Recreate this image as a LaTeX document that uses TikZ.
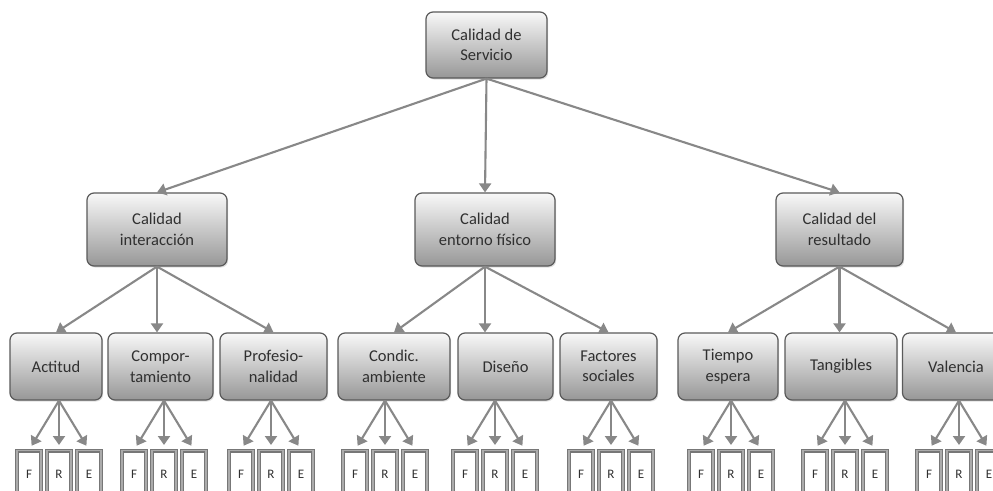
\documentclass[tikz,border=0pt]{standalone}
\usepackage{fontspec}
\setmainfont{Carlito}
\usetikzlibrary{arrows.meta,shadows}
\definecolor{boxtop}{HTML}{F8F8F8}
\definecolor{boxmid}{HTML}{DADADA}
\definecolor{boxbot}{HTML}{979797}
\definecolor{boxedge}{HTML}{5A5A5A}
\definecolor{linkgray}{HTML}{888888}
\definecolor{leafedge}{HTML}{777777}
\definecolor{leafin}{HTML}{ABABAB}
\definecolor{txt}{HTML}{303030}

% fan of three leaf boxes (F, R, E) under a category node
\newcommand\leafgroup[2]{%
  \node[leaf] (#1-F) at (#2-30,450) {F};
  \node[leaf] (#1-R) at (#2,450) {R};
  \node[leaf] (#1-E) at (#2+30,450) {E};
  \coordinate (#1-o) at (#1-R.north |- #1.south);
  \foreach \k in {F,R,E} \draw[link, shorten >=5pt] (#1-o) -- (#1-\k.north);
}

\begin{document}
\begin{tikzpicture}[x=1pt,y=-1pt,
  catbox/.style={rounded corners=7pt, draw=boxedge, line width=1.2pt,
    top color=boxtop, middle color=boxmid, bottom color=boxbot,
    text=txt, font=\fontsize{16.5}{20.5}\selectfont, align=center, inner sep=0pt,
    drop shadow={opacity=0.25, shadow xshift=1.2pt, shadow yshift=-1.5pt}},
  lvlone/.style={catbox, minimum height=73pt},
  lvltwo/.style={catbox, minimum height=67pt},
  leaf/.style={anchor=north, minimum width=24pt, minimum height=48pt, inner sep=0pt,
    draw=leafedge, line width=1.4pt, double=leafin, double distance=1.1pt,
    fill=white, text=txt, font=\fontsize{13}{15}\selectfont},
  link/.style={draw=linkgray, line width=2.1pt,
    -{Triangle[length=9pt,width=12pt]}}]

\clip (0,0) rectangle (993,490);
\fill[white] (0,0) rectangle (993,490);

% root
\node[catbox, minimum width=121pt, minimum height=66pt] (root) at (486.5,45) {Calidad de\\Servicio};

% second level
\node[lvlone, minimum width=140pt] (inter) at (157,229.5) {Calidad\\interacción};
\node[lvlone, minimum width=140pt] (entor) at (485,229.5) {Calidad\\entorno físico};
\node[lvlone, minimum width=127pt] (resul) at (839.5,229.5) {Calidad del\\resultado};

% third level
\node[lvltwo, minimum width=92pt]  (acti) at (56,366.5)  {Actitud};
\node[lvltwo, minimum width=105pt] (comp) at (160.5,366.5) {Compor-\\tamiento};
\node[lvltwo, minimum width=107pt] (prof) at (273.5,366.5) {Profesio-\\nalidad};
\node[lvltwo, minimum width=112pt] (cond) at (394,366.5) {Condic.\\ambiente};
\node[lvltwo, minimum width=95pt]  (dise) at (505.5,366.5) {Diseño};
\node[lvltwo, minimum width=97pt]  (fact) at (608.5,366.5) {Factores\\sociales};
\node[lvltwo, minimum width=100pt] (tiem) at (728,366.5) {Tiempo\\espera};
\node[lvltwo, minimum width=112pt] (tang) at (841,366.5) {Tangibles};
\node[lvltwo, minimum width=107pt] (vale) at (956,366.5) {Valencia};

% root to second level
\draw[link] (root.south) -- (inter.north);
\draw[link] (root.south) -- (entor.north);
\draw[link] (root.south) -- (resul.north);

% second level to third level
\draw[link] (inter.south) -- (acti.north);
\draw[link] (inter.south) -- (inter.south |- comp.north);
\draw[link] (inter.south) -- (prof.north);
\draw[link] (entor.south) -- (cond.north);
\draw[link] (entor.south) -- (entor.south |- dise.north);
\draw[link] (entor.south) -- (fact.north);
\draw[link] (resul.south) -- (tiem.north);
\draw[link] (resul.south) -- (resul.south |- tang.north);
\draw[link] (resul.south) -- (vale.north);

% leaves
\leafgroup{acti}{59}
\leafgroup{comp}{164}
\leafgroup{prof}{271}
\leafgroup{cond}{385}
\leafgroup{dise}{495}
\leafgroup{fact}{611}
\leafgroup{tiem}{731}
\leafgroup{tang}{845}
\leafgroup{vale}{959}
\end{tikzpicture}
\end{document}
